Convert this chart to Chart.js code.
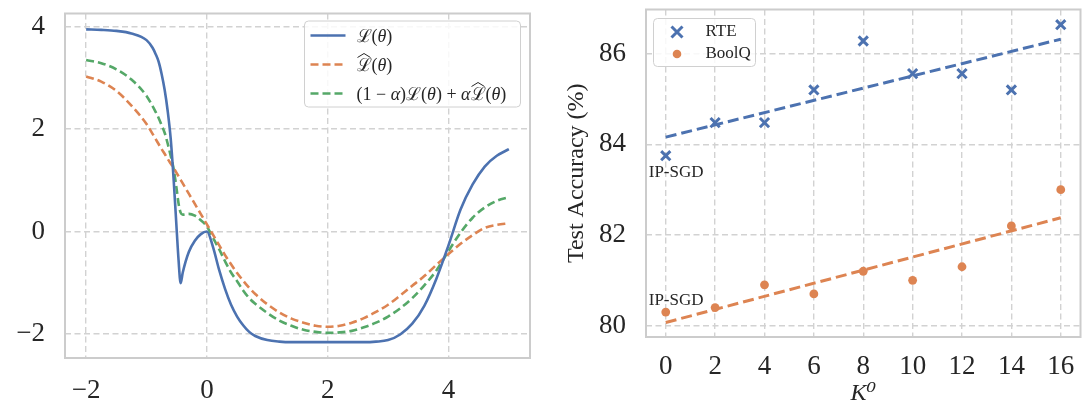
<!DOCTYPE html>
<html lang="en">
<head>
<meta charset="UTF-8">
<title>Loss curves and accuracy vs K0</title>
<script src="https://cdn.jsdelivr.net/npm/chart.js"></script>
<style>
  html, body { margin: 0; padding: 0; background: #fff; }
  .panel { position: absolute; top: 0; width: 545px; height: 407px; }
  #left { left: 0; }
  #right { left: 545px; }
</style>
</head>
<body>
<div class="panel" id="left"><canvas id="lossChart"></canvas></div>
<div class="panel" id="right"><canvas id="accChart"></canvas></div>
<script>
// ---- left panel: the three loss curves over theta ----
const theta = [-2, -1.75, -1.5, -1.25, -1, -0.9, -0.85, -0.8, -0.75, -0.7, -0.65, -0.6, -0.55, -0.5, -0.47, -0.435,
  -0.4, -0.3, -0.2, -0.1, 0, 0.1, 0.2, 0.3, 0.4, 0.5, 0.6, 0.7, 0.8, 1, 1.2, 1.4, 1.6, 1.8,
  2, 2.2, 2.4, 2.6, 2.8, 3, 3.2, 3.4, 3.6, 3.8, 4, 4.2, 4.4, 4.6, 4.8, 5];
const lossTrue = [3.95, 3.94, 3.92, 3.87, 3.74, 3.59, 3.47, 3.32, 3.08, 2.77, 2.36, 1.82, 1.00, 0.02, -0.55, -1.01,
  -0.80, -0.40, -0.18, -0.05, 0.0, -0.30, -0.74, -1.12, -1.43, -1.66, -1.83, -1.96, -2.04, -2.12, -2.15, -2.16, -2.16, -2.16,
  -2.16, -2.16, -2.16, -2.16, -2.15, -2.12, -2.01, -1.80, -1.45, -0.92, -0.27, 0.43, 0.92, 1.27, 1.48, 1.61];
const lossHat = [3.03, 2.93, 2.75, 2.46, 2.10, 1.91, 1.81, 1.71, 1.61, 1.52, 1.42, 1.33, 1.24, 1.14, 1.08, 1.01,
  0.94, 0.74, 0.54, 0.34, 0.14, -0.06, -0.26, -0.46, -0.64, -0.81, -0.96, -1.10, -1.22, -1.42, -1.58, -1.70, -1.78, -1.84,
  -1.86, -1.84, -1.78, -1.69, -1.57, -1.43, -1.25, -1.06, -0.87, -0.65, -0.44, -0.24, -0.07, 0.07, 0.13, 0.16];
const lossMix = [3.35, 3.29, 3.17, 2.97, 2.65, 2.45, 2.34, 2.22, 2.08, 1.93, 1.72, 1.48, 1.22, 0.82, 0.55, 0.37,
  0.33, 0.345, 0.31, 0.22, 0.10, -0.12, -0.34, -0.58, -0.80, -0.97, -1.15, -1.30, -1.41, -1.59, -1.74, -1.84, -1.92, -1.96,
  -1.98, -1.97, -1.94, -1.87, -1.78, -1.66, -1.50, -1.30, -1.05, -0.76, -0.38, -0.02, 0.27, 0.47, 0.60, 0.67];
const thetaTicks = [-2, 0, 2, 4];
const lossTicks = [-2, 0, 2, 4];

// ---- right panel: test accuracy against K0 ----
const kValues = [0, 2, 4, 6, 8, 10, 12, 14, 16];
const rteAcc = [83.75, 84.48, 84.48, 85.20, 86.28, 85.56, 85.56, 85.20, 86.64];
const boolqAcc = [80.3, 80.4, 80.9, 80.7, 81.2, 81.0, 81.3, 82.2, 83.0];
const fitK = [0, 16];
const rteFit = [84.16, 86.32];
const boolqFit = [80.07, 82.38];
const kTicks = [0, 2, 4, 6, 8, 10, 12, 14, 16];
const accTicks = [80, 82, 84, 86];

const SERIF = '"Liberation Serif", "DejaVu Serif", serif';
const INK = '#262626';
const BLUE = '#4C72B0', ORANGE = '#DD8452', GREEN = '#55A868';
const GRID = '#d2d2d2';

Chart.defaults.font.family = SERIF;
Chart.defaults.color = INK;

const pts = (xs, ys) => xs.map((x, i) => ({ x: x, y: ys[i] }));
const minus = v => (v < 0 ? '\u2212' + Math.abs(v) : String(v));

function axis(ticks, min, max, extra) {
  return Object.assign({
    type: 'linear', min: min, max: max,
    afterBuildTicks: s => { s.ticks = ticks.map(v => ({ value: v })); },
    grid: { color: GRID, lineWidth: 1.4, drawTicks: false },
    border: { display: false, dash: [6, 3.5] },
  }, extra);
}

// light grey box round the plot area
const frame = {
  id: 'frame',
  beforeDatasetsDraw(chart) {
    const { ctx, chartArea: a } = chart;
    ctx.save();
    ctx.strokeStyle = '#cccccc';
    ctx.lineWidth = 2;
    ctx.strokeRect(a.left, a.top, a.right - a.left, a.bottom - a.top);
    ctx.restore();
  }
};

function legendBox(ctx, x, y, w, h) {
  ctx.beginPath();
  ctx.roundRect(x, y, w, h, 4);
  ctx.fillStyle = 'rgba(255,255,255,0.85)';
  ctx.fill();
  ctx.strokeStyle = '#d0d0d0';
  ctx.lineWidth = 1;
  ctx.stroke();
}

// writes a row of math-ish text pieces, italic where needed, hat over L-hat
function drawRun(ctx, runs, x, base, size) {
  runs.forEach(r => {
    ctx.font = (r.it ? 'italic ' : '') + size + 'px ' + SERIF;
    const w = ctx.measureText(r.t).width;
    ctx.fillStyle = INK;
    ctx.fillText(r.t, x, base);
    if (r.hat) {
      ctx.beginPath();
      ctx.moveTo(x + 1, base - 13);
      ctx.lineTo(x + w / 2, base - 17);
      ctx.lineTo(x + w - 1, base - 13);
      ctx.lineWidth = 1;
      ctx.strokeStyle = INK;
      ctx.stroke();
    }
    x += w;
  });
}

const L = { t: '\u2112' }, LH = { t: '\u2112', hat: true };
const TH = [{ t: '(' }, { t: '\u03b8', it: true }, { t: ')' }];
const lossLegend = [
  { color: BLUE, dash: [], runs: [L, ...TH] },
  { color: ORANGE, dash: [8, 4], runs: [LH, ...TH] },
  { color: GREEN, dash: [8, 4], runs: [{ t: '(1 \u2212 ' }, { t: '\u03b1', it: true }, { t: ')' }, L, { t: '(' },
    { t: '\u03b8', it: true }, { t: ') + ' }, { t: '\u03b1', it: true }, LH, ...TH] }
];

const lossLegendPlugin = {
  id: 'lossLegend',
  afterDraw(chart) {
    const { ctx, chartArea: a } = chart;
    const bx = a.right - 225.5, by = a.top + 7.5;
    ctx.save();
    legendBox(ctx, bx, by, 216, 86);
    lossLegend.forEach((item, i) => {
      const cy = by + 14.5 + i * 29;
      ctx.beginPath();
      ctx.setLineDash(item.dash);
      ctx.moveTo(bx + 6, cy);
      ctx.lineTo(bx + 41, cy);
      ctx.strokeStyle = item.color;
      ctx.lineWidth = 2.6;
      ctx.stroke();
      ctx.setLineDash([]);
      ctx.textBaseline = 'alphabetic';
      drawRun(ctx, item.runs, bx + 52, cy + 6, 18);
    });
    ctx.restore();
  }
};

new Chart(document.getElementById('lossChart'), {
  type: 'line',
  data: {
    datasets: [
      { label: 'L(\u03b8)', data: pts(theta, lossTrue), borderColor: BLUE, borderWidth: 2.6 },
      { label: 'L\u0302(\u03b8)', data: pts(theta, lossHat), borderColor: ORANGE, borderWidth: 2.6, borderDash: [8, 4] },
      { label: '(1\u2212\u03b1)L(\u03b8)+\u03b1L\u0302(\u03b8)', data: pts(theta, lossMix), borderColor: GREEN, borderWidth: 2.6, borderDash: [8, 4] }
    ]
  },
  options: {
    responsive: true,
    maintainAspectRatio: false,
    animation: false,
    events: [],
    layout: { padding: { top: 13.5, right: 15, left: 0, bottom: 0 } },
    elements: { point: { radius: 0 }, line: { cubicInterpolationMode: 'monotone', fill: false } },
    plugins: { legend: { display: false }, tooltip: { enabled: false } },
    scales: {
      x: axis(thetaTicks, -2.35, 5.35, {
        afterFit: s => { s.height = 49; s.paddingLeft = 0; s.paddingRight = 0; },
        ticks: { font: { size: 27 }, padding: 17, callback: minus, maxRotation: 0 }
      }),
      y: axis(lossTicks, -2.47, 4.26, {
        afterFit: s => { s.width = 65; s.paddingTop = 0; s.paddingBottom = 0; },
        ticks: { font: { size: 27 }, padding: 20, callback: minus }
      })
    }
  },
  plugins: [frame, lossLegendPlugin]
});

// ---- right panel ----
const ipsgdNotes = [
  { text: 'IP-SGD', k: -0.69, acc: 83.37 },
  { text: 'IP-SGD', k: -0.69, acc: 80.55 }
];

const notesPlugin = {
  id: 'notes',
  afterDatasetsDraw(chart) {
    const { ctx, scales } = chart;
    ctx.save();
    ctx.font = '17px ' + SERIF;
    ctx.fillStyle = INK;
    ctx.textAlign = 'left';
    ctx.textBaseline = 'middle';
    ipsgdNotes.forEach(n => ctx.fillText(n.text, scales.x.getPixelForValue(n.k), scales.y.getPixelForValue(n.acc)));
    ctx.restore();
  }
};

const accLegendPlugin = {
  id: 'accLegend',
  afterDraw(chart) {
    const { ctx, chartArea: a } = chart;
    const bx = a.left + 7.5, by = a.top + 9;
    ctx.save();
    legendBox(ctx, bx, by, 102, 48);
    const mx = bx + 23.5;
    // RTE cross
    let cy = by + 13.5;
    ctx.strokeStyle = BLUE;
    ctx.lineWidth = 3;
    ctx.beginPath();
    ctx.moveTo(mx - 5.5, cy - 5.5); ctx.lineTo(mx + 5.5, cy + 5.5);
    ctx.moveTo(mx - 5.5, cy + 5.5); ctx.lineTo(mx + 5.5, cy - 5.5);
    ctx.stroke();
    ctx.font = '17px ' + SERIF;
    ctx.fillStyle = INK;
    ctx.textBaseline = 'middle';
    ctx.fillText('RTE', bx + 52, cy);
    // BoolQ dot
    cy = by + 35.5;
    ctx.beginPath();
    ctx.arc(mx, cy, 4.3, 0, Math.PI * 2);
    ctx.fillStyle = ORANGE;
    ctx.fill();
    ctx.fillStyle = INK;
    ctx.fillText('BoolQ', bx + 52, cy);
    ctx.restore();
  }
};

new Chart(document.getElementById('accChart'), {
  type: 'scatter',
  data: {
    datasets: [
      { label: 'RTE', data: pts(kValues, rteAcc), pointStyle: 'crossRot', pointRadius: 6.5,
        borderColor: BLUE, pointBorderWidth: 3, backgroundColor: BLUE },
      { label: 'BoolQ', data: pts(kValues, boolqAcc), pointStyle: 'circle', pointRadius: 4.4,
        backgroundColor: ORANGE, borderColor: ORANGE, pointBorderWidth: 0 },
      { label: 'RTE fit', data: pts(fitK, rteFit), showLine: true, pointRadius: 0,
        borderColor: BLUE, borderWidth: 3, borderDash: [11, 5] },
      { label: 'BoolQ fit', data: pts(fitK, boolqFit), showLine: true, pointRadius: 0,
        borderColor: ORANGE, borderWidth: 3, borderDash: [11, 5] }
    ]
  },
  options: {
    responsive: true,
    maintainAspectRatio: false,
    animation: false,
    events: [],
    layout: { padding: { top: 6, right: 1, left: 0, bottom: 0 } },
    plugins: { legend: { display: false }, tooltip: { enabled: false } },
    scales: {
      x: axis(kTicks, -0.8, 16.8, {
        afterFit: s => { s.height = 70; s.paddingLeft = 0; s.paddingRight = 0; },
        ticks: { font: { size: 27 }, padding: 14, maxRotation: 0 },
        title: { display: true, text: 'K\u2070', font: { size: 24, style: 'italic', lineHeight: 1 },
          padding: { top: 0, bottom: 1 } }
      }),
      y: axis(accTicks, 79.75, 86.975, {
        afterFit: s => { s.width = 101; s.paddingTop = 0; s.paddingBottom = 0; },
        ticks: { font: { size: 27 }, padding: 20 },
        title: { display: true, text: 'Test Accuracy (%)', font: { size: 24, lineHeight: 1 },
          padding: { top: 20, bottom: 0 } }
      })
    }
  },
  plugins: [frame, notesPlugin, accLegendPlugin]
});
</script>
</body>
</html>
